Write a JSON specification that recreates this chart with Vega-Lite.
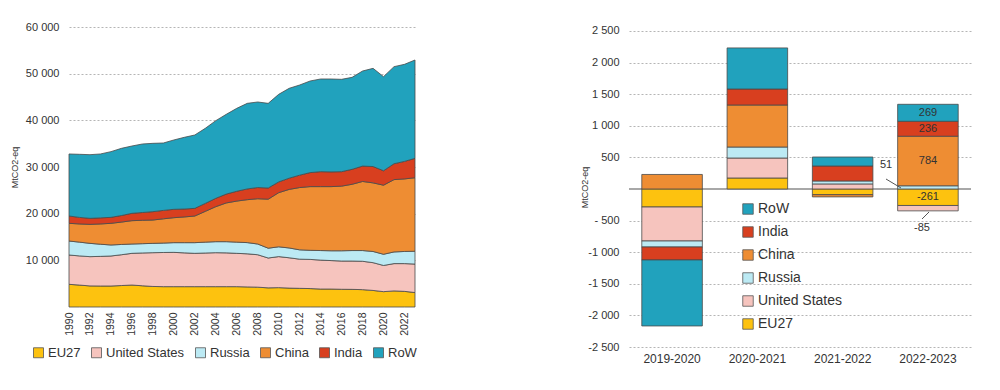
{
  "$schema": "https://vega.github.io/schema/vega-lite/v6.json",
  "background": "white",
  "padding": {"left": 10, "top": 21, "right": 5, "bottom": 5},
  "config": {
    "view": {"stroke": null},
    "font": "Liberation Sans, sans-serif",
    "axis": {"labelFont": "Liberation Sans, sans-serif", "titleFont": "Liberation Sans, sans-serif", "labelColor": "#333333", "titleColor": "#333333", "labelOverlap": false},
    "legend": {"labelFont": "Liberation Sans, sans-serif", "labelColor": "#333333"}
  },
  "datasets": {
    "ts": [
      {"year":1990,"region":"EU27","value":4860},{"year":1990,"region":"United States","value":6280},{"year":1990,"region":"Russia","value":3000},{"year":1990,"region":"China","value":3790},{"year":1990,"region":"India","value":1570},{"year":1990,"region":"RoW","value":13290},
      {"year":1991,"region":"EU27","value":4700},{"year":1991,"region":"United States","value":6250},{"year":1991,"region":"Russia","value":2950},{"year":1991,"region":"China","value":3900},{"year":1991,"region":"India","value":1400},{"year":1991,"region":"RoW","value":13520},
      {"year":1992,"region":"EU27","value":4520},{"year":1992,"region":"United States","value":6270},{"year":1992,"region":"Russia","value":2850},{"year":1992,"region":"China","value":4070},{"year":1992,"region":"India","value":1290},{"year":1992,"region":"RoW","value":13640},
      {"year":1993,"region":"EU27","value":4500},{"year":1993,"region":"United States","value":6350},{"year":1993,"region":"Russia","value":2600},{"year":1993,"region":"China","value":4350},{"year":1993,"region":"India","value":1300},{"year":1993,"region":"RoW","value":13690},
      {"year":1994,"region":"EU27","value":4500},{"year":1994,"region":"United States","value":6430},{"year":1994,"region":"Russia","value":2360},{"year":1994,"region":"China","value":4640},{"year":1994,"region":"India","value":1280},{"year":1994,"region":"RoW","value":14080},
      {"year":1995,"region":"EU27","value":4600},{"year":1995,"region":"United States","value":6600},{"year":1995,"region":"Russia","value":2200},{"year":1995,"region":"China","value":4800},{"year":1995,"region":"India","value":1400},{"year":1995,"region":"RoW","value":14400},
      {"year":1996,"region":"EU27","value":4710},{"year":1996,"region":"United States","value":6790},{"year":1996,"region":"Russia","value":2000},{"year":1996,"region":"China","value":5000},{"year":1996,"region":"India","value":1570},{"year":1996,"region":"RoW","value":14430},
      {"year":1997,"region":"EU27","value":4550},{"year":1997,"region":"United States","value":7030},{"year":1997,"region":"Russia","value":1990},{"year":1997,"region":"China","value":5010},{"year":1997,"region":"India","value":1670},{"year":1997,"region":"RoW","value":14680},
      {"year":1998,"region":"EU27","value":4400},{"year":1998,"region":"United States","value":7240},{"year":1998,"region":"Russia","value":2000},{"year":1998,"region":"China","value":5000},{"year":1998,"region":"India","value":1790},{"year":1998,"region":"RoW","value":14640},
      {"year":1999,"region":"EU27","value":4360},{"year":1999,"region":"United States","value":7320},{"year":1999,"region":"Russia","value":2020},{"year":1999,"region":"China","value":5200},{"year":1999,"region":"India","value":1800},{"year":1999,"region":"RoW","value":14440},
      {"year":2000,"region":"EU27","value":4360},{"year":2000,"region":"United States","value":7350},{"year":2000,"region":"Russia","value":2080},{"year":2000,"region":"China","value":5350},{"year":2000,"region":"India","value":1790},{"year":2000,"region":"RoW","value":14860},
      {"year":2001,"region":"EU27","value":4360},{"year":2001,"region":"United States","value":7240},{"year":2001,"region":"Russia","value":2190},{"year":2001,"region":"China","value":5510},{"year":2001,"region":"India","value":1700},{"year":2001,"region":"RoW","value":15360},
      {"year":2002,"region":"EU27","value":4360},{"year":2002,"region":"United States","value":7140},{"year":2002,"region":"Russia","value":2290},{"year":2002,"region":"China","value":5710},{"year":2002,"region":"India","value":1640},{"year":2002,"region":"RoW","value":15720},
      {"year":2003,"region":"EU27","value":4360},{"year":2003,"region":"United States","value":7210},{"year":2003,"region":"Russia","value":2330},{"year":2003,"region":"China","value":6600},{"year":2003,"region":"India","value":1700},{"year":2003,"region":"RoW","value":16090},
      {"year":2004,"region":"EU27","value":4360},{"year":2004,"region":"United States","value":7280},{"year":2004,"region":"Russia","value":2360},{"year":2004,"region":"China","value":7500},{"year":2004,"region":"India","value":1790},{"year":2004,"region":"RoW","value":16640},
      {"year":2005,"region":"EU27","value":4360},{"year":2005,"region":"United States","value":7240},{"year":2005,"region":"Russia","value":2400},{"year":2005,"region":"China","value":8300},{"year":2005,"region":"India","value":1900},{"year":2005,"region":"RoW","value":17090},
      {"year":2006,"region":"EU27","value":4360},{"year":2006,"region":"United States","value":7140},{"year":2006,"region":"Russia","value":2400},{"year":2006,"region":"China","value":8800},{"year":2006,"region":"India","value":2100},{"year":2006,"region":"RoW","value":17770},
      {"year":2007,"region":"EU27","value":4300},{"year":2007,"region":"United States","value":7100},{"year":2007,"region":"Russia","value":2400},{"year":2007,"region":"China","value":9200},{"year":2007,"region":"India","value":2300},{"year":2007,"region":"RoW","value":18340},
      {"year":2008,"region":"EU27","value":4250},{"year":2008,"region":"United States","value":6950},{"year":2008,"region":"Russia","value":2300},{"year":2008,"region":"China","value":9700},{"year":2008,"region":"India","value":2400},{"year":2008,"region":"RoW","value":18330},
      {"year":2009,"region":"EU27","value":4100},{"year":2009,"region":"United States","value":6400},{"year":2009,"region":"Russia","value":2100},{"year":2009,"region":"China","value":10500},{"year":2009,"region":"India","value":2400},{"year":2009,"region":"RoW","value":18140},
      {"year":2010,"region":"EU27","value":4150},{"year":2010,"region":"United States","value":6650},{"year":2010,"region":"Russia","value":2100},{"year":2010,"region":"China","value":11600},{"year":2010,"region":"India","value":2300},{"year":2010,"region":"RoW","value":18770},
      {"year":2011,"region":"EU27","value":4050},{"year":2011,"region":"United States","value":6500},{"year":2011,"region":"Russia","value":2100},{"year":2011,"region":"China","value":12550},{"year":2011,"region":"India","value":2400},{"year":2011,"region":"RoW","value":19260},
      {"year":2012,"region":"EU27","value":4000},{"year":2012,"region":"United States","value":6250},{"year":2012,"region":"Russia","value":2000},{"year":2012,"region":"China","value":13350},{"year":2012,"region":"India","value":2650},{"year":2012,"region":"RoW","value":19320},
      {"year":2013,"region":"EU27","value":3950},{"year":2013,"region":"United States","value":6250},{"year":2013,"region":"Russia","value":1950},{"year":2013,"region":"China","value":13650},{"year":2013,"region":"India","value":3000},{"year":2013,"region":"RoW","value":19630},
      {"year":2014,"region":"EU27","value":3850},{"year":2014,"region":"United States","value":6200},{"year":2014,"region":"Russia","value":2050},{"year":2014,"region":"China","value":13700},{"year":2014,"region":"India","value":3200},{"year":2014,"region":"RoW","value":19860},
      {"year":2015,"region":"EU27","value":3850},{"year":2015,"region":"United States","value":6100},{"year":2015,"region":"Russia","value":2100},{"year":2015,"region":"China","value":13750},{"year":2015,"region":"India","value":3150},{"year":2015,"region":"RoW","value":19910},
      {"year":2016,"region":"EU27","value":3800},{"year":2016,"region":"United States","value":6050},{"year":2016,"region":"Russia","value":2200},{"year":2016,"region":"China","value":13850},{"year":2016,"region":"India","value":3100},{"year":2016,"region":"RoW","value":19790},
      {"year":2017,"region":"EU27","value":3780},{"year":2017,"region":"United States","value":6070},{"year":2017,"region":"Russia","value":2250},{"year":2017,"region":"China","value":14200},{"year":2017,"region":"India","value":3200},{"year":2017,"region":"RoW","value":19710},
      {"year":2018,"region":"EU27","value":3720},{"year":2018,"region":"United States","value":6080},{"year":2018,"region":"Russia","value":2300},{"year":2018,"region":"China","value":14800},{"year":2018,"region":"India","value":3300},{"year":2018,"region":"RoW","value":20370},
      {"year":2019,"region":"EU27","value":3550},{"year":2019,"region":"United States","value":5950},{"year":2019,"region":"Russia","value":2400},{"year":2019,"region":"China","value":14700},{"year":2019,"region":"India","value":3500},{"year":2019,"region":"RoW","value":21040},
      {"year":2020,"region":"EU27","value":3290},{"year":2020,"region":"United States","value":5610},{"year":2020,"region":"Russia","value":2400},{"year":2020,"region":"China","value":14800},{"year":2020,"region":"India","value":3100},{"year":2020,"region":"RoW","value":20160},
      {"year":2021,"region":"EU27","value":3450},{"year":2021,"region":"United States","value":5850},{"year":2021,"region":"Russia","value":2500},{"year":2021,"region":"China","value":15500},{"year":2021,"region":"India","value":3400},{"year":2021,"region":"RoW","value":20800},
      {"year":2022,"region":"EU27","value":3350},{"year":2022,"region":"United States","value":5950},{"year":2022,"region":"Russia","value":2600},{"year":2022,"region":"China","value":15550},{"year":2022,"region":"India","value":3750},{"year":2022,"region":"RoW","value":20800},
      {"year":2023,"region":"EU27","value":3100},{"year":2023,"region":"United States","value":6100},{"year":2023,"region":"Russia","value":2750},{"year":2023,"region":"China","value":15750},{"year":2023,"region":"India","value":4150},{"year":2023,"region":"RoW","value":21080}
    ],
    "chg": [
      {"period":"2019-2020","region":"EU27","value":-285,"label":""},
      {"period":"2019-2020","region":"United States","value":-538,"label":""},
      {"period":"2019-2020","region":"Russia","value":-95,"label":""},
      {"period":"2019-2020","region":"China","value":230,"label":""},
      {"period":"2019-2020","region":"India","value":-205,"label":""},
      {"period":"2019-2020","region":"RoW","value":-1044,"label":""},
      {"period":"2020-2021","region":"EU27","value":174,"label":""},
      {"period":"2020-2021","region":"United States","value":316,"label":""},
      {"period":"2020-2021","region":"Russia","value":174,"label":""},
      {"period":"2020-2021","region":"China","value":665,"label":""},
      {"period":"2020-2021","region":"India","value":253,"label":""},
      {"period":"2020-2021","region":"RoW","value":650,"label":""},
      {"period":"2021-2022","region":"EU27","value":-90,"label":""},
      {"period":"2021-2022","region":"United States","value":80,"label":""},
      {"period":"2021-2022","region":"Russia","value":47,"label":""},
      {"period":"2021-2022","region":"China","value":-35,"label":""},
      {"period":"2021-2022","region":"India","value":237,"label":""},
      {"period":"2021-2022","region":"RoW","value":142,"label":""},
      {"period":"2022-2023","region":"EU27","value":-261,"label":"-261"},
      {"period":"2022-2023","region":"United States","value":-85,"label":""},
      {"period":"2022-2023","region":"Russia","value":51,"label":""},
      {"period":"2022-2023","region":"China","value":784,"label":"784"},
      {"period":"2022-2023","region":"India","value":236,"label":"236"},
      {"period":"2022-2023","region":"RoW","value":269,"label":"269"}
    ],
    "notes": [
      {"u":3.006,"v":380,"u2":3.006,"v2":158,"uLine":3.181,"vLine":16,"t":"51"},
      {"u":3.427,"v":-617,"u2":3.509,"v2":-364,"uLine":3.427,"vLine":-475,"t":"-85"}
    ]
  },
  "bounds": "flush",
  "spacing": 214,
  "resolve": {"scale": {"color": "independent"}, "legend": {"color": "independent"}},
  "hconcat": [
    {
      "width": 346,
      "height": 280,
      "data": {"name": "ts"},
      "transform": [{"calculate": "indexof(['EU27','United States','Russia','China','India','RoW'], datum.region)", "as": "ord"}],
      "mark": {"type": "area", "stroke": "#4a4a4a", "strokeWidth": 0.8, "opacity": 1},
      "encoding": {
        "x": {"field": "year", "type": "quantitative", "scale": {"domain": [1990, 2023], "nice": false, "zero": false},
          "axis": {"values": [1990,1992,1994,1996,1998,2000,2002,2004,2006,2008,2010,2012,2014,2016,2018,2020,2022], "tickCount": 40, "format": "d", "labelAngle": 270, "grid": false, "ticks": false, "domain": false, "title": null, "labelFontSize": 10.5, "labelPadding": 5}},
        "y": {"field": "value", "type": "quantitative", "stack": "zero", "scale": {"domain": [0, 60000], "nice": false},
          "axis": {"values": [10000,20000,30000,40000,50000,60000], "tickCount": 20, "labelExpr": "replace(format(datum.value, ','), regexp(',', 'g'), ' ')", "title": "MtCO2-eq", "titleFontSize": 9, "titleFontWeight": "normal", "grid": true, "gridDash": [2,2], "gridColor": "#b5b5b5", "ticks": false, "domain": false, "labelFontSize": 11, "labelPadding": 10, "titlePadding": 6}},
        "color": {"field": "region", "type": "nominal",
          "scale": {"domain": ["EU27","United States","Russia","China","India","RoW"], "range": ["#FDC20F","#F6C4BE","#BCEAF4","#EE8D33","#D83F1F","#21A2BD"]},
          "legend": {"orient": "none", "legendX": -37, "legendY": 319, "direction": "horizontal", "title": null, "symbolType": "square", "symbolSize": 100, "symbolStrokeColor": "#555555", "symbolStrokeWidth": 0.8, "symbolOpacity": 1, "labelFontSize": 13, "columnPadding": 8, "labelOffset": 3, "padding": 0}},
        "order": {"field": "ord", "type": "quantitative"}
      }
    },
    {
      "width": 342,
      "height": 320,
      "layer": [
        {
          "data": {"name": "chg"},
          "mark": {"type": "rule", "color": "#a8a8a8", "strokeWidth": 1.5},
          "encoding": {"y": {"datum": 0, "type": "quantitative"}}
        },
        {
          "data": {"name": "chg"},
          "transform": [{"calculate": "indexof(['EU27','United States','Russia','China','India','RoW'], datum.region)", "as": "ord"}],
          "layer": [
            {
              "mark": {"type": "bar", "stroke": "#4a4a4a", "strokeWidth": 0.8},
              "encoding": {
                "x": {"field": "period", "type": "nominal", "scale": {"paddingInner": 0.29, "paddingOuter": 0.15},
                  "axis": {"title": null, "labelAngle": 0, "ticks": false, "domain": false, "labelFontSize": 12, "labelPadding": 6}},
                "y": {"field": "value", "type": "quantitative", "stack": "zero", "scale": {"domain": [-2500, 2563], "nice": false, "zero": false},
                  "axis": {"values": [-2500,-2000,-1500,-1000,-500,500,1000,1500,2000,2500], "tickCount": 40, "labelExpr": "datum.value == -500 ? '- 500' : replace(replace(format(datum.value, ','), regexp(',', 'g'), ' '), '\u2212', '-')", "title": "MtCO2-eq", "titleFontSize": 9, "titleFontWeight": "normal", "grid": true, "gridDash": [2,2], "gridColor": "#b5b5b5", "ticks": false, "domain": false, "labelFontSize": 11, "labelPadding": 10, "titlePadding": -2}},
                "color": {"field": "region", "type": "nominal",
                  "scale": {"domain": ["RoW","India","China","Russia","United States","EU27"], "range": ["#21A2BD","#D83F1F","#EE8D33","#BCEAF4","#F6C4BE","#FDC20F"]},
                  "legend": {"orient": "none", "legendX": 112, "legendY": 175, "direction": "vertical", "title": null, "symbolType": "square", "symbolSize": 110, "symbolStrokeColor": "#555555", "symbolStrokeWidth": 0.8, "labelFontSize": 14, "rowPadding": 9, "labelOffset": 3, "padding": 0}},
                "order": {"field": "ord", "type": "quantitative"}
              }
            },
            {
              "mark": {"type": "text", "fontSize": 11, "color": "#333333"},
              "encoding": {
                "x": {"field": "period", "type": "nominal"},
                "y": {"field": "value", "type": "quantitative", "stack": "zero", "bandPosition": 0.5},
                "text": {"field": "label"},
                "order": {"field": "ord", "type": "quantitative"},
                "detail": {"field": "region"}
              }
            }
          ]
        },
        {
          "data": {"name": "notes"},
          "layer": [
            {
              "mark": {"type": "rule", "color": "#555555", "strokeWidth": 1},
              "encoding": {
                "x": {"field": "u2", "type": "quantitative", "scale": {"domain": [0, 4], "nice": false, "zero": false}, "axis": null},
                "x2": {"field": "uLine"},
                "y": {"field": "v2", "type": "quantitative"},
                "y2": {"field": "vLine"}
              }
            },
            {
              "mark": {"type": "text", "fontSize": 11, "color": "#333333"},
              "encoding": {
                "x": {"field": "u", "type": "quantitative", "axis": null},
                "y": {"field": "v", "type": "quantitative"},
                "text": {"field": "t"}
              }
            }
          ]
        }
      ],
      "resolve": {"scale": {"x": "independent"}, "axis": {"x": "independent"}}
    }
  ]
}
